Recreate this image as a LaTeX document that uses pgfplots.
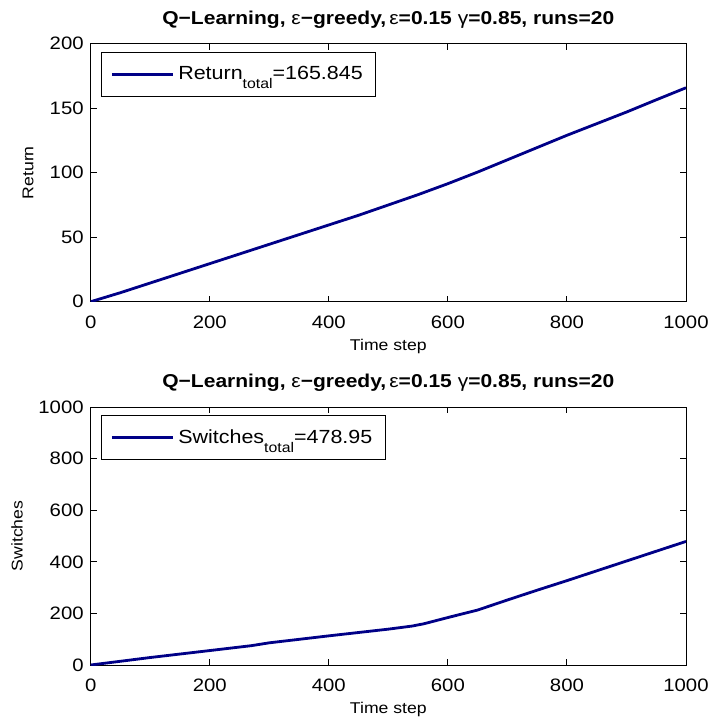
\documentclass[border=0pt]{standalone}
\usepackage{fontspec}
\setmainfont{Liberation Sans}[FakeStretch=1.13]
\usepackage{pgfplots}
\pgfplotsset{compat=1.18}
\definecolor{navy}{RGB}{0,0,135}

\pgfplotstableread{
x y
0 0
50 7
100 14.5
150 22
200 29.5
250 37
300 44.5
350 52
400 59.5
450 67
500 75
550 83
600 91.5
650 100.5
700 110
750 119.5
800 129
850 138
900 147
950 156.5
1000 165.845
}\returndata

\pgfplotstableread{
x y
0 0
100 29
200 56
270 75
300 86
400 113
500 139
540 151
560 160
600 184
650 213
700 252
750 290
800 327
850 365
900 403
950 441
1000 478.95
}\switchdata

\pgfplotsset{
  mstyle/.style={
    scale only axis,
    width=297.65pt, height=129pt,
    xmin=0, xmax=1000,
    xtick={0,200,...,1000},
    axis line style={line width=0.5pt, black},
    every tick/.style={line width=0.5pt, black},
    major tick length=3pt,
    tick align=inside,
    scaled ticks=false,
    /pgf/number format/assume math mode=true,
    /pgf/number format/1000 sep={},
    tick label style={font=\fontsize{9}{11}\selectfont},
    xticklabel style={anchor=base, yshift=-13.2pt},
    xlabel={Time step},
    xlabel style={font=\fontsize{7.8}{9}\selectfont, at={(axis description cs:0.5,0)}, anchor=base, yshift=-24.2pt},
    every axis title shift=0pt,
    title style={font=\fontsize{9.3}{11}\selectfont\bfseries, at={(axis description cs:0.5,1)}, anchor=base, yshift=9.85pt},
    title={Q−Learning, {\mdseries ε}−greedy,\,{\mdseries ε}=0.15 {\mdseries γ}=0.85, runs=20},
    legend style={at={(0,1)}, anchor=north west, xshift=5.15pt, yshift=-4.2pt,
      draw=black, line width=0.5pt, font=\fontsize{9.5}{11}\selectfont,
      inner xsep=4.5pt, inner ysep=4.8pt},
    legend cell align=left,
    legend image code/.code={\draw[#1, line width=1.4pt] (0pt,0pt) -- (30.5pt,0pt);},
  }
}

\begin{document}
\begin{tikzpicture}
\path[use as bounding box] (0,0) rectangle (355pt,-359pt);

\begin{axis}[mstyle, at={(45.35pt,-150.85pt)}, anchor=south west,
  ymin=0, ymax=200, ytick={0,50,...,200},
  ylabel={Return},
  ylabel style={font=\fontsize{7.8}{9}\selectfont, at={([xshift=-31.35pt]axis description cs:0,0.5)}, anchor=center},
]
\addplot[navy, line width=1.4pt] table[x=x,y=y] {\returndata};
\addlegendentry{Return\raisebox{-4.5pt}{\fontsize{7}{8}\selectfont total}=165.845}
\end{axis}

\begin{axis}[mstyle, at={(45.35pt,-332.5pt)}, anchor=south west,
  ymin=0, ymax=1000, ytick={0,200,...,1000},
  ylabel={Switches},
  ylabel style={font=\fontsize{7.8}{9}\selectfont, at={([xshift=-36.85pt]axis description cs:0,0.5)}, anchor=center},
]
\addplot[navy, line width=1.4pt] table[x=x,y=y] {\switchdata};
\addlegendentry{Switches\raisebox{-4.5pt}{\fontsize{7}{8}\selectfont total}=478.95}
\end{axis}
\end{tikzpicture}
\end{document}
